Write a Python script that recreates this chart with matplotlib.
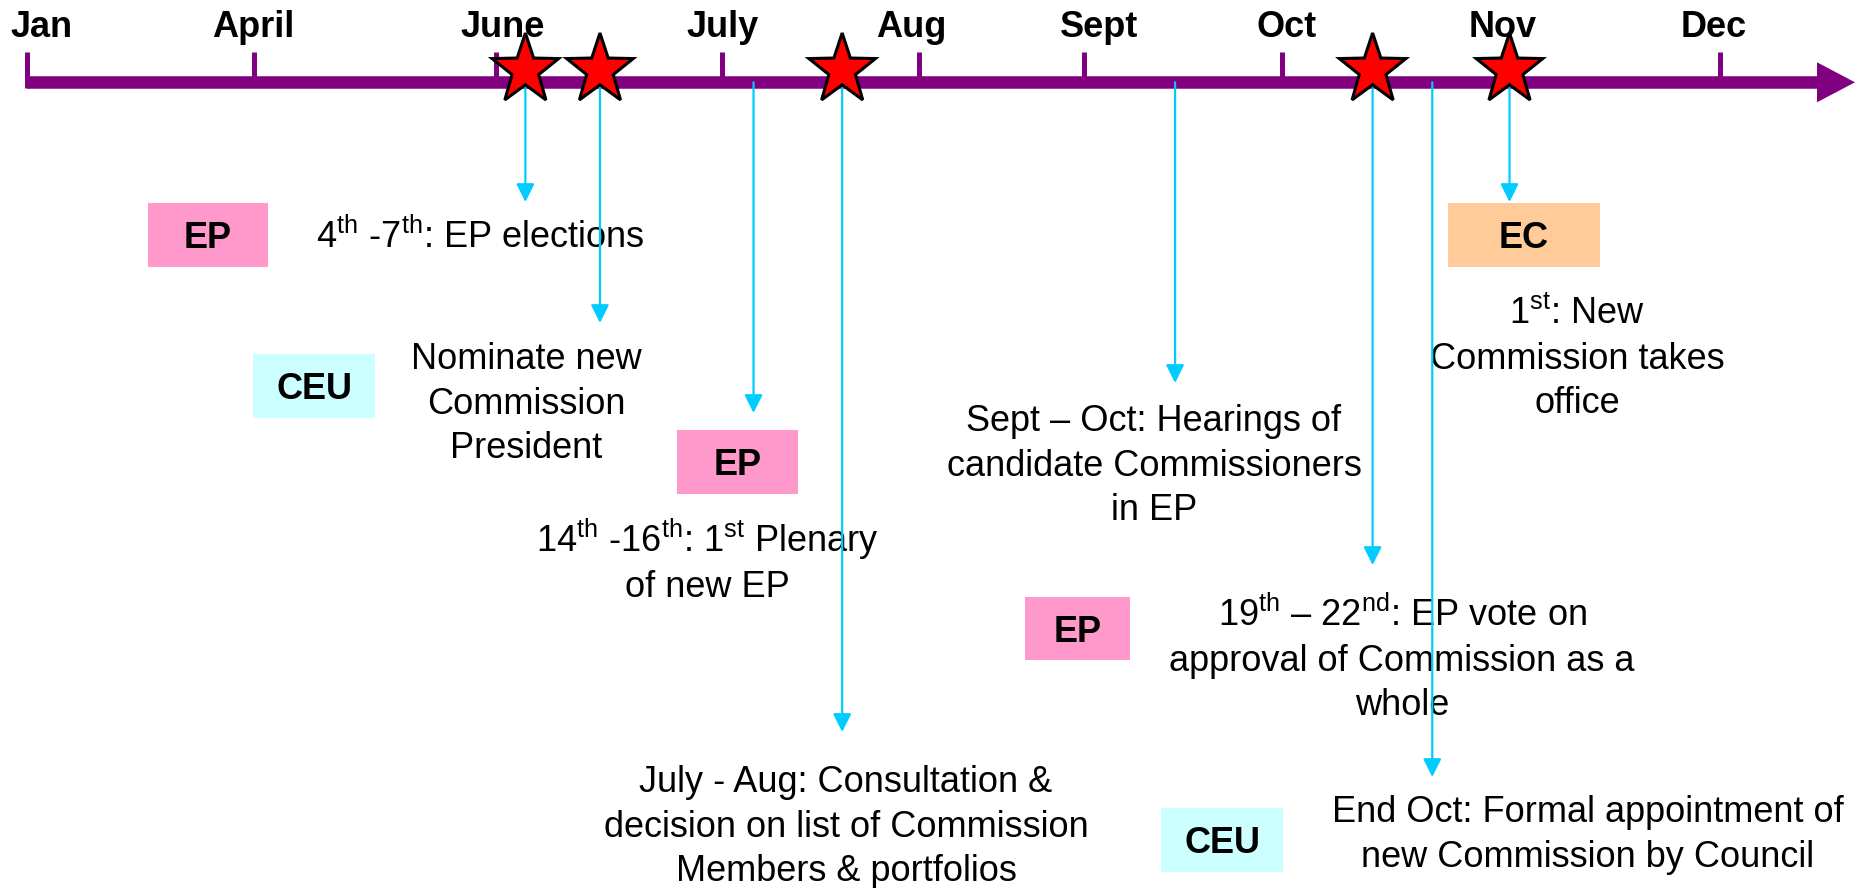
import numpy as np
import matplotlib
matplotlib.use('Agg')
import matplotlib.pyplot as plt
from matplotlib.patches import Rectangle, Polygon

plt.rcParams['font.family'] = ['Liberation Sans', 'DejaVu Sans']
plt.rcParams['mathtext.fontset'] = 'custom'
plt.rcParams['mathtext.rm'] = 'Liberation Sans'
plt.rcParams['mathtext.it'] = 'Liberation Sans:italic'
plt.rcParams['mathtext.bf'] = 'Liberation Sans:bold'

# ---------------- data ----------------
months = ['Jan', 'April', 'June', 'July', 'Aug', 'Sept', 'Oct', 'Nov', 'Dec']
month_numbers = [1, 4, 6, 7, 8, 9, 10, 11, 12]

# fractional month of each event (month number + fraction of month)
event_dates = [6.13, 6.46, 7.16, 7.61, 9.46, 10.41, 10.68, 11.03]
event_starred = [True, True, False, True, False, True, False, True]
event_texts = [
    "4$^{\\mathrm{th}}$ -7$^{\\mathrm{th}}$: EP elections",
    "Nominate new\nCommission\nPresident",
    "14$^{\\mathrm{th}}$ -16$^{\\mathrm{th}}$: 1$^{\\mathrm{st}}$ Plenary\nof new EP",
    "July - Aug: Consultation &\ndecision on list of Commission\nMembers & portfolios",
    "Sept \u2013 Oct: Hearings of\ncandidate Commissioners\nin EP",
    "19$^{\\mathrm{th}}$ \u2013 22$^{\\mathrm{nd}}$: EP vote on\napproval of Commission as a\nwhole",
    "End Oct: Formal appointment of\nnew Commission by Council",
    "1$^{\\mathrm{st}}$: New\nCommission takes\noffice",
]
institutions = ['EP', 'CEU', 'EP', 'EP', 'CEU', 'EC']

# ---------------- layout (pixels) ----------------
W, H = 1860, 888
tick_px = [27, 254, 496, 722, 919, 1084, 1282, 1503, 1720]
label_px = [42, 253, 503, 723, 911, 1099, 1287, 1503, 1714]
month_baseline = 37
line_y = 82.3
line_x0, line_x1 = 27, 1817
arrow_tip_x = 1855
arrow_half_h = 20
tick_top = 52

arrow_tip_y = [202, 323, 413, 732, 383, 565, 777, 202]
text_x = [480, 526, 707, 846, 1154, 1402, 1588, 1577]
text_baseline = [248, 369, 552, 792, 431, 626, 822, 324]
line_pitch = 44.5

box_x = [(148, 268), (253, 375), (677, 798), (1025, 1130), (1161, 1283), (1448, 1600)]
box_y = [(203, 267), (354, 418), (430, 494), (597, 660), (808, 872), (203, 267)]
inst_colors = {'EP': '#FF99CC', 'CEU': '#CCFFFF', 'EC': '#FFCC99'}

purple = '#800080'
cyan = '#00CCFF'
FS = 26

fig = plt.figure(figsize=(W / 100, H / 100), dpi=100)
ax = fig.add_axes([0, 0, 1, 1])
ax.set_xlim(0, W)
ax.set_ylim(H, 0)
ax.axis('off')

# timeline
ax.plot([line_x0, line_x1], [line_y, line_y], color=purple, lw=12.5 * 0.72,
        solid_capstyle='butt', zorder=3)
ax.fill([line_x1, arrow_tip_x, line_x1],
        [line_y - arrow_half_h, line_y, line_y + arrow_half_h],
        color=purple, lw=0, zorder=3)
for i, (tx, lx, m) in enumerate(zip(tick_px, label_px, months)):
    bottom = line_y + 6 if i == 0 else line_y
    ax.plot([tx, tx], [tick_top, bottom], color=purple, lw=3.6,
            solid_capstyle='butt', zorder=3)
    ax.text(lx, month_baseline, m, ha='center', va='baseline', fontsize=FS,
            fontweight='bold', color='black', zorder=6)

# events
event_x = np.interp(event_dates, month_numbers, tick_px)

def star(cx, cy, rx=35, ry=37, inner=0.40):
    ang = np.deg2rad(90 + 36 * np.arange(10))
    r = np.where(np.arange(10) % 2 == 0, 1.0, inner)
    xs = cx + rx * r * np.cos(ang)
    ys = cy - ry * r * np.sin(ang)
    return np.column_stack([xs, ys])

for x, tip, starred, txt, tx, tb in zip(event_x, arrow_tip_y, event_starred,
                                        event_texts, text_x, text_baseline):
    ax.annotate('', xy=(x, tip), xytext=(x, line_y),
                arrowprops=dict(arrowstyle='-|>,head_length=1.1,head_width=0.55',
                                color=cyan, lw=1.6, shrinkA=0, shrinkB=0,
                                mutation_scale=10),
                zorder=4)
    if starred:
        ax.add_patch(Polygon(star(x, 70), closed=True, facecolor='#FF0000',
                             edgecolor='black', lw=2.2, joinstyle='miter',
                             zorder=7))
    for k, ln in enumerate(txt.split('\n')):
        ax.text(tx, tb + k * line_pitch, ln, ha='center', va='baseline',
                fontsize=FS, color='black', zorder=2)

# institution boxes
for name, (x0, x1), (y0, y1) in zip(institutions, box_x, box_y):
    ax.add_patch(Rectangle((x0, y0), x1 - x0, y1 - y0, facecolor=inst_colors[name],
                           edgecolor='none', zorder=1))
    ax.text((x0 + x1) / 2, (y0 + y1) / 2 + 13, name, ha='center', va='baseline',
            fontsize=FS, fontweight='bold', color='black', zorder=2)

fig.savefig('out.png', dpi=100)
